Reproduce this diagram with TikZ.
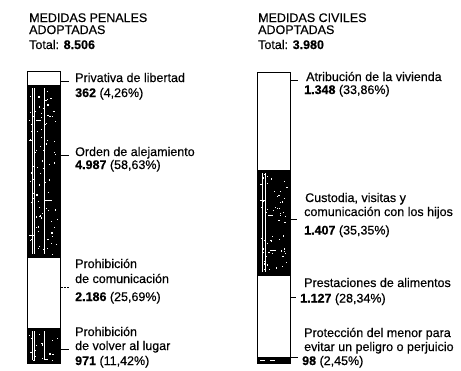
\documentclass[tikz,border=0pt]{standalone}
\usepackage{fontspec}
\setmainfont{Liberation Sans}[FakeBold=0.4]
\begin{document}
\begin{tikzpicture}[x=1pt,y=-1pt,
  txt/.style={anchor=base west, inner sep=0pt, font=\fontsize{12.5}{12.5}\selectfont},
  seg/.style={draw=black, line width=1pt, anchor=north west, minimum width=33pt, inner sep=0pt},
  wseg/.style={seg, fill=white},
  bseg/.style={seg, fill=black},
  grain/.style={draw=white, line width=0.7pt},
  speck/.style={fill=white},
  leader/.style={line width=0.9pt}]
\useasboundingbox (0,0) rectangle (461,370);
\pgfmathsetseed{7}

% ---- left: penal ----
\node[txt] (t1) at (29,22) {MEDIDAS PENALES};
\node[txt] (t2) at (29,34) {ADOPTADAS};
\node[txt] (t3) at (29,49) {Total: \textbf{8.506}};

\node[wseg, minimum height=14pt]  (p1) at (27,71)  {};
\node[bseg, minimum height=172pt] (p2) at (27,85)  {};
\node[wseg, minimum height=71pt]  (p3) at (27,257) {};
\node[bseg, minimum height=35pt]  (p4) at (27,328) {};
\foreach \gx in {32,34.5,44}{
  \draw[grain] (\gx,88) -- (\gx,254);
  \draw[grain] (\gx,331) -- (\gx,360);
}
\foreach \k in {1,...,90}{
  \pgfmathsetmacro{\sx}{29+rnd*28}
  \pgfmathsetmacro{\sy}{88+rnd*166}
  \fill[speck] (\sx,\sy) rectangle ++(1.2,1.2);
}
\foreach \k in {1,...,20}{
  \pgfmathsetmacro{\sx}{29+rnd*28}
  \pgfmathsetmacro{\sy}{331+rnd*29}
  \fill[speck] (\sx,\sy) rectangle ++(1.2,1.2);
}
\draw[grain] (29,140) -- (33,140) (36,120) -- (41,120) (45,200) -- (52,200) (29,235) -- (34,235);

\coordinate (l1) at (69,81);  \draw[leader] (p1.east |- l1) -- (l1);
\coordinate (l2) at (69,155); \draw[leader] (p2.east |- l2) -- (l2);
\coordinate (l3) at (70,287); \draw[leader, dash pattern=on 2pt off 1pt] (p3.east |- l3) -- (l3);
\coordinate (l4) at (69,349); \draw[leader] (p4.east |- l4) -- (l4);

\node[txt] (a1) at (75,82)  {Privativa de libertad};
\node[txt] (a2) at (75,97)  {\textbf{362} (4,26\%)};
\node[txt] (b1) at (75,156) {Orden de alejamiento};
\node[txt] (b2) at (75,169) {\textbf{4.987} (58,63\%)};
\node[txt] (d1) at (75,268) {Prohibición};
\node[txt] (d2) at (75,283) {de comunicación};
\node[txt] (d3) at (75,301) {\textbf{2.186} (25,69\%)};
\node[txt] (e1) at (75,336) {Prohibición};
\node[txt] (e2) at (75,350) {de volver al lugar};
\node[txt] (e3) at (75,365) {\textbf{971} (11,42\%)};

% ---- right: civil ----
\node[txt] (s1) at (258,22) {MEDIDAS CIVILES};
\node[txt] (s2) at (258,34) {ADOPTADAS};
\node[txt] (s3) at (258,49) {Total: \textbf{3.980}};

\node[wseg, minimum height=98pt]  (c1) at (257,72)  {};
\node[bseg, minimum height=105pt] (c2) at (257,170) {};
\node[wseg, minimum height=82pt]  (c3) at (257,275) {};
\node[bseg, minimum height=6pt]   (c4) at (257,357) {};
\foreach \gx in {262,265.5}{
  \draw[grain] (\gx,173) -- (\gx,272);
}
\foreach \k in {1,...,55}{
  \pgfmathsetmacro{\sx}{259+rnd*28}
  \pgfmathsetmacro{\sy}{173+rnd*99}
  \fill[speck] (\sx,\sy) rectangle ++(1.2,1.2);
}
\draw[grain] (260,200) -- (266,200) (268,215) -- (273,215) (270,250) -- (276,250);
\draw[grain] (260,360) -- (265,360) (270,360) -- (275,360);

\coordinate (r1) at (298,80);  \draw[leader] (c1.east |- r1) -- (r1);
\coordinate (r2) at (297,219); \draw[leader] (c2.east |- r2) -- (r2);
\coordinate (r3) at (296,297); \draw[leader] (c3.east |- r3) -- (r3);
\coordinate (r4) at (298,357); \draw[leader] (c4.east |- r4) -- (r4);

\node[txt] (f1) at (306,81)    {Atribución de la vivienda};
\node[txt] (f2) at (304,94)    {\textbf{1.348} (33,86\%)};
\node[txt] (g1) at (305,202)   {Custodia, visitas y};
\node[txt] (g2) at (304,216)   {comunicación con los hijos};
\node[txt] (g3) at (304,234.5) {\textbf{1.407} (35,35\%)};
\node[txt] (h1) at (304,287)   {Prestaciones de alimentos};
\node[txt] (h2) at (300,302.5) {\textbf{1.127} (28,34\%)};
\node[txt] (k1) at (304,337)   {Protección del menor para};
\node[txt] (k2) at (304,351)   {evitar un peligro o perjuicio};
\node[txt] (k3) at (302,365)   {\textbf{98} (2,45\%)};
\end{tikzpicture}
\end{document}
